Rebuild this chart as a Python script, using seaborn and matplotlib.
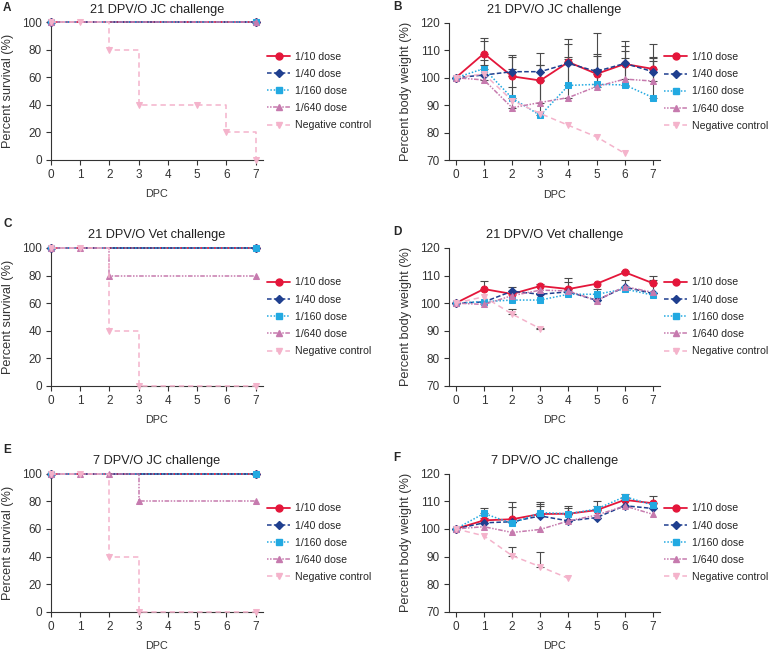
import matplotlib
matplotlib.use('Agg')
import matplotlib.pyplot as plt
from matplotlib.lines import Line2D
import seaborn as sns
import numpy as np

# groups and styling
groups = ['1/10 dose', '1/40 dose', '1/160 dose', '1/640 dose', 'Negative control']
colors = ['#e4163a', '#1f3f8f', '#22a9e1', '#c67aae', '#f4b3cb']
markers = ['o', 'D', 's', '^', 'v']
msizes = [5.0, 3.8, 4.4, 4.8, 4.8]
lstyles = ['-', (0, (3, 1.5)), (0, (1, 1.2)), (0, (1, 1, 1, 1, 3, 1)), (0, (3.5, 2.5))]
lwidths = [1.3, 1.1, 1.1, 1.1, 1.1]

days = [0, 1, 2, 3, 4, 5, 6, 7]

# survival (time points where a mark is drawn, percent survival)
surv_a_t = [[0, 7], [0, 7], [0, 7], [0, 7], [0, 1, 2, 3, 5, 6, 7]]
surv_a_v = [[100, 100], [100, 100], [100, 100], [100, 100], [100, 100, 80, 40, 40, 20, 0]]
surv_c_t = [[0, 7], [0, 7], [0, 7], [0, 1, 2, 7], [0, 1, 2, 3, 7]]
surv_c_v = [[100, 100], [100, 100], [100, 100], [100, 100, 80, 80], [100, 100, 40, 0, 0]]
surv_e_t = [[0, 7], [0, 7], [0, 7], [0, 1, 2, 3, 7], [0, 1, 2, 3, 7]]
surv_e_v = [[100, 100], [100, 100], [100, 100], [100, 100, 100, 80, 80], [100, 100, 40, 0, 0]]

# body weight means (%) and upper SD
bw_b = [[100, 108.8, 100.5, 99.0, 105.7, 101.4, 105.0, 103.2],
        [100, 101.0, 102.2, 102.2, 105.2, 102.3, 105.2, 102.2],
        [100, 103.3, 92.6, 86.3, 97.2, 97.6, 97.4, 92.8],
        [100, 99.2, 89.1, 91.0, 92.8, 96.8, 99.5, 98.8],
        [100, 101.4, 91.7, 87.0, 82.7, 78.5, 72.5]]
sd_b = [[0, 5.5, 7.8, 10.0, 8.5, 15.0, 6.5, 9.1],
        [0, 5.4, 5.2, 2.4, 6.9, 6.2, 8.1, 5.5],
        [0, 10.2, 10.4, 12.5, 10.3, 10.3, 12.4, 14.2],
        [0, 5.4, 7.7, 13.6, 14.0, 6.2, 7.5, 7.2],
        [0, 0, 0, 0, 0, 0, 0]]

bw_d = [[100, 105.1, 103.3, 106.2, 105.1, 107.0, 111.2, 107.2],
        [100, 100.4, 104.3, 103.2, 104.1, 101.0, 105.8, 103.5],
        [100, 100.5, 101.1, 101.1, 103.2, 103.2, 105.1, 102.9],
        [100, 99.5, 102.7, 104.7, 104.4, 100.9, 106.0, 103.9],
        [100, 102.3, 96.0, 90.7]]
sd_d = [[0, 3.0, 0, 0.6, 3.9, 0, 0.6, 2.8],
        [0, 0, 1.7, 0, 3.4, 4.0, 2.5, 5.0],
        [0, 0, 0, 0, 0, 0, 0, 0],
        [0, 0, 0, 0, 0, 0, 0, 0],
        [0, 0, 2.0, 0.3]]

bw_f = [[100, 103.1, 103.5, 105.4, 105.5, 106.8, 110.5, 109.3],
        [100, 102.2, 102.6, 104.7, 102.9, 104.1, 108.4, 107.4],
        [100, 105.6, 102.0, 105.9, 105.5, 107.2, 111.7, 108.6],
        [100, 100.8, 98.7, 99.8, 102.9, 105.0, 108.3, 105.3],
        [100, 97.5, 90.3, 86.3, 82.1]]
sd_f = [[0, 0.8, 6.4, 4.5, 2.7, 3.2, 0.6, 2.6],
        [0, 0, 5.2, 3.6, 0, 0, 0, 0],
        [0, 2.1, 0, 3.0, 2.0, 1.1, 1.0, 0],
        [0, 0, 0, 0, 0, 0, 0, 0],
        [0, 0, 3.2, 5.4, 0]]

sns.set_theme(style='ticks')
plt.rcParams['font.family'] = ['Liberation Sans', 'DejaVu Sans']
plt.rcParams['axes.edgecolor'] = '#333333'
plt.rcParams['xtick.color'] = '#333333'
plt.rcParams['ytick.color'] = '#333333'

fig = plt.figure(figsize=(7.71, 6.52), dpi=100)
W, H = 771.0, 652.0


def add_ax(left, right, top, bottom):
    return fig.add_axes([left / W, 1 - bottom / H, (right - left) / W, (bottom - top) / H])


def style_ax(ax, title, ylabel):
    sns.despine(ax=ax)
    ax.set_title(title, fontsize=9.2, pad=7, color='#222222')
    ax.set_xlabel('DPC', fontsize=7.8, labelpad=6, color='#333333')
    ax.set_ylabel(ylabel, fontsize=9.2, labelpad=6, color='#333333')
    ax.tick_params(labelsize=8.5, length=3.5, width=0.8, pad=3)
    ax.set_xticks(days)
    for s in ax.spines.values():
        s.set_linewidth(0.8)
    handles = [Line2D([], [], color=c, marker=m, ms=ms, mec=c, ls=ls, lw=lw)
               for c, m, ms, ls, lw in zip(colors, markers, msizes, lstyles, lwidths)]
    ax.legend(handles, groups, loc='center left', bbox_to_anchor=(1.0, 0.5), frameon=False,
              fontsize=7.6, handlelength=2.2, handletextpad=0.4, labelspacing=0.68,
              borderaxespad=0.4, borderpad=0)


def survival(ax, ts, vs, title):
    for i in range(len(groups)):
        sns.lineplot(x=ts[i], y=vs[i], ax=ax, color=colors[i], marker=markers[i], ms=msizes[i],
                     mec=colors[i], ls=lstyles[i], lw=lwidths[i], drawstyle='steps-post',
                     clip_on=False, errorbar=None, zorder=3 + i * 0.1)
    ax.set_xlim(0, 7.25)
    ax.set_ylim(0, 100)
    ax.set_yticks([0, 20, 40, 60, 80, 100])
    style_ax(ax, title, 'Percent survival (%)')


def weight(ax, means, sds, title):
    for i in range(len(groups)):
        x = np.array(days[:len(means[i])])
        m = np.array(means[i])
        s = np.array(sds[i])
        k = s > 0
        ax.errorbar(x[k], m[k], yerr=[np.zeros(k.sum()), s[k]], fmt='none', ecolor='#4a4a4a',
                    elinewidth=0.8, capsize=3, capthick=0.8, zorder=2)
    for i in range(len(groups)):
        x = days[:len(means[i])]
        sns.lineplot(x=x, y=means[i], ax=ax, color=colors[i], marker=markers[i], ms=msizes[i],
                     mec=colors[i], ls=lstyles[i], lw=lwidths[i], clip_on=False,
                     errorbar=None, zorder=3 + i * 0.1)
    ax.set_xlim(-0.24, 7.25)
    ax.set_ylim(70, 120)
    ax.set_yticks([70, 80, 90, 100, 110, 120])
    style_ax(ax, title, 'Percent body weight (%)')


ax_a = add_ax(51, 263, 22.3, 159.7)
ax_b = add_ax(449, 660, 22.7, 160.3)
ax_c = add_ax(51, 263, 248, 385.7)
ax_d = add_ax(449, 660, 248, 385.7)
ax_e = add_ax(51, 263, 473.7, 611.7)
ax_f = add_ax(449, 660, 473.7, 611.7)

survival(ax_a, surv_a_t, surv_a_v, '21 DPV/O JC challenge')
weight(ax_b, bw_b, sd_b, '21 DPV/O JC challenge')
survival(ax_c, surv_c_t, surv_c_v, '21 DPV/O Vet challenge')
weight(ax_d, bw_d, sd_d, '21 DPV/O Vet challenge')
survival(ax_e, surv_e_t, surv_e_v, '7 DPV/O JC challenge')
weight(ax_f, bw_f, sd_f, '7 DPV/O JC challenge')

for letter, x, y in [('A', 3, 8), ('B', 393, 7), ('C', 3, 224), ('D', 393, 232),
                     ('E', 3, 450), ('F', 393, 458)]:
    fig.text(x / W, 1 - y / H, letter, fontsize=8.5, fontweight='bold', va='center', ha='left')

fig.savefig('out.png', dpi=100)
